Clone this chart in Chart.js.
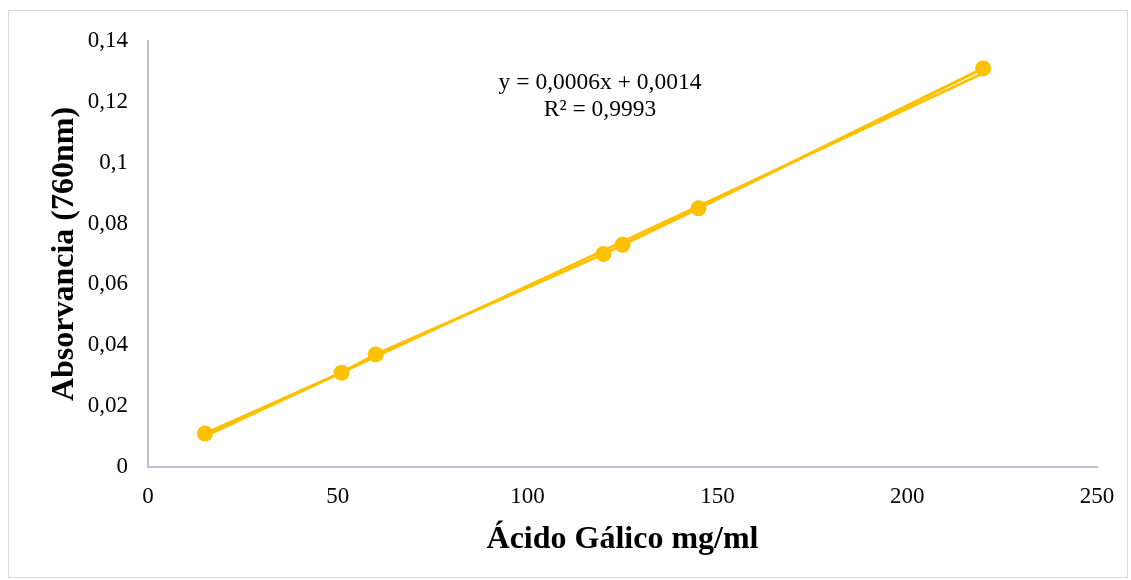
<!DOCTYPE html>
<html>
<head>
<meta charset="utf-8">
<script src="https://cdn.jsdelivr.net/npm/chart.js@4/dist/chart.umd.min.js"></script>
<style>
  html, body { margin: 0; padding: 0; background: #fff; }
  #wrap { width: 1131px; height: 580px; }
</style>
</head>
<body>
<div id="wrap"><canvas id="curve"></canvas></div>
<script>
// Gallic acid calibration curve
const concentrations = [15, 51, 60, 120, 125, 145, 220];          // mg/ml
const absorbances = [0.011, 0.031, 0.037, 0.070, 0.073, 0.085, 0.131]; // 760 nm

// Linear trendline ends
const trendX = [15, 220];
const trendY = [0.0101, 0.1294];

const equationLines = ['y = 0,0006x + 0,0014', 'R² = 0,9993'];

const GOLD = '#FFC000';
const AXIS = '#b8c3d6';
const SERIF = '"Liberation Serif", "Times New Roman", serif';

const toPoints = (xs, ys) => xs.map((x, i) => ({ x, y: ys[i] }));

// white page with a thin grey frame, plus the regression text
const framePlugin = {
  id: 'frame',
  beforeDraw(chart) {
    const ctx = chart.ctx;
    ctx.save();
    ctx.fillStyle = '#fff';
    ctx.fillRect(0, 0, chart.width, chart.height);
    ctx.strokeStyle = '#d9d9d9';
    ctx.lineWidth = 1;
    ctx.strokeRect(8.5, 10.5, 1119, 567);
    ctx.restore();
  },
  afterDatasetsDraw(chart) {
    const ctx = chart.ctx;
    ctx.save();
    ctx.fillStyle = '#000';
    ctx.font = '23.5px ' + SERIF;
    ctx.textAlign = 'center';
    ctx.textBaseline = 'middle';
    ctx.fillText(equationLines[0], 600, 83);
    ctx.fillText(equationLines[1], 600, 110);
    ctx.restore();
  }
};

new Chart(document.getElementById('curve'), {
  type: 'scatter',
  data: {
    datasets: [
      {
        label: 'Lineal',
        data: toPoints(trendX, trendY),
        showLine: true,
        borderColor: GOLD,
        borderWidth: 2.5,
        pointRadius: 0,
        fill: false
      },
      {
        label: 'Absorbancia',
        data: toPoints(concentrations, absorbances),
        showLine: true,
        borderColor: GOLD,
        backgroundColor: GOLD,
        borderWidth: 3,
        pointRadius: 8,
        pointBorderWidth: 0,
        fill: false
      }
    ]
  },
  options: {
    responsive: true,
    maintainAspectRatio: false,
    animation: false,
    events: [],
    layout: { padding: { left: 0, right: 34, top: 41, bottom: 0 } },
    plugins: {
      legend: { display: false },
      tooltip: { enabled: false }
    },
    scales: {
      x: {
        type: 'linear',
        min: 0,
        max: 250,
        grid: { display: false, drawTicks: false },
        border: { display: true, color: AXIS, width: 2 },
        ticks: {
          stepSize: 50,
          padding: 16,
          color: '#000',
          font: { family: SERIF, size: 23 }
        },
        title: {
          display: true,
          text: 'Ácido Gálico mg/ml',
          color: '#000',
          font: { family: SERIF, size: 32, weight: 'bold' },
          padding: { top: 0, bottom: 21 }
        },
        afterFit(scale) { scale.height = 113; }
      },
      y: {
        min: 0,
        max: 0.14,
        grid: { display: false, drawTicks: false },
        border: { display: true, color: AXIS, width: 2 },
        ticks: {
          stepSize: 0.02,
          padding: 20,
          color: '#000',
          font: { family: SERIF, size: 23 },
          callback: (v) => String(Math.round(v * 100) / 100).replace('.', ',')
        },
        title: {
          display: true,
          text: 'Absorvancia (760nm)',
          color: '#000',
          font: { family: SERIF, size: 32, weight: 'bold' },
          padding: { top: 46, bottom: 0 }
        },
        afterFit(scale) { scale.width = 148; }
      }
    }
  },
  plugins: [framePlugin]
});
</script>
</body>
</html>
